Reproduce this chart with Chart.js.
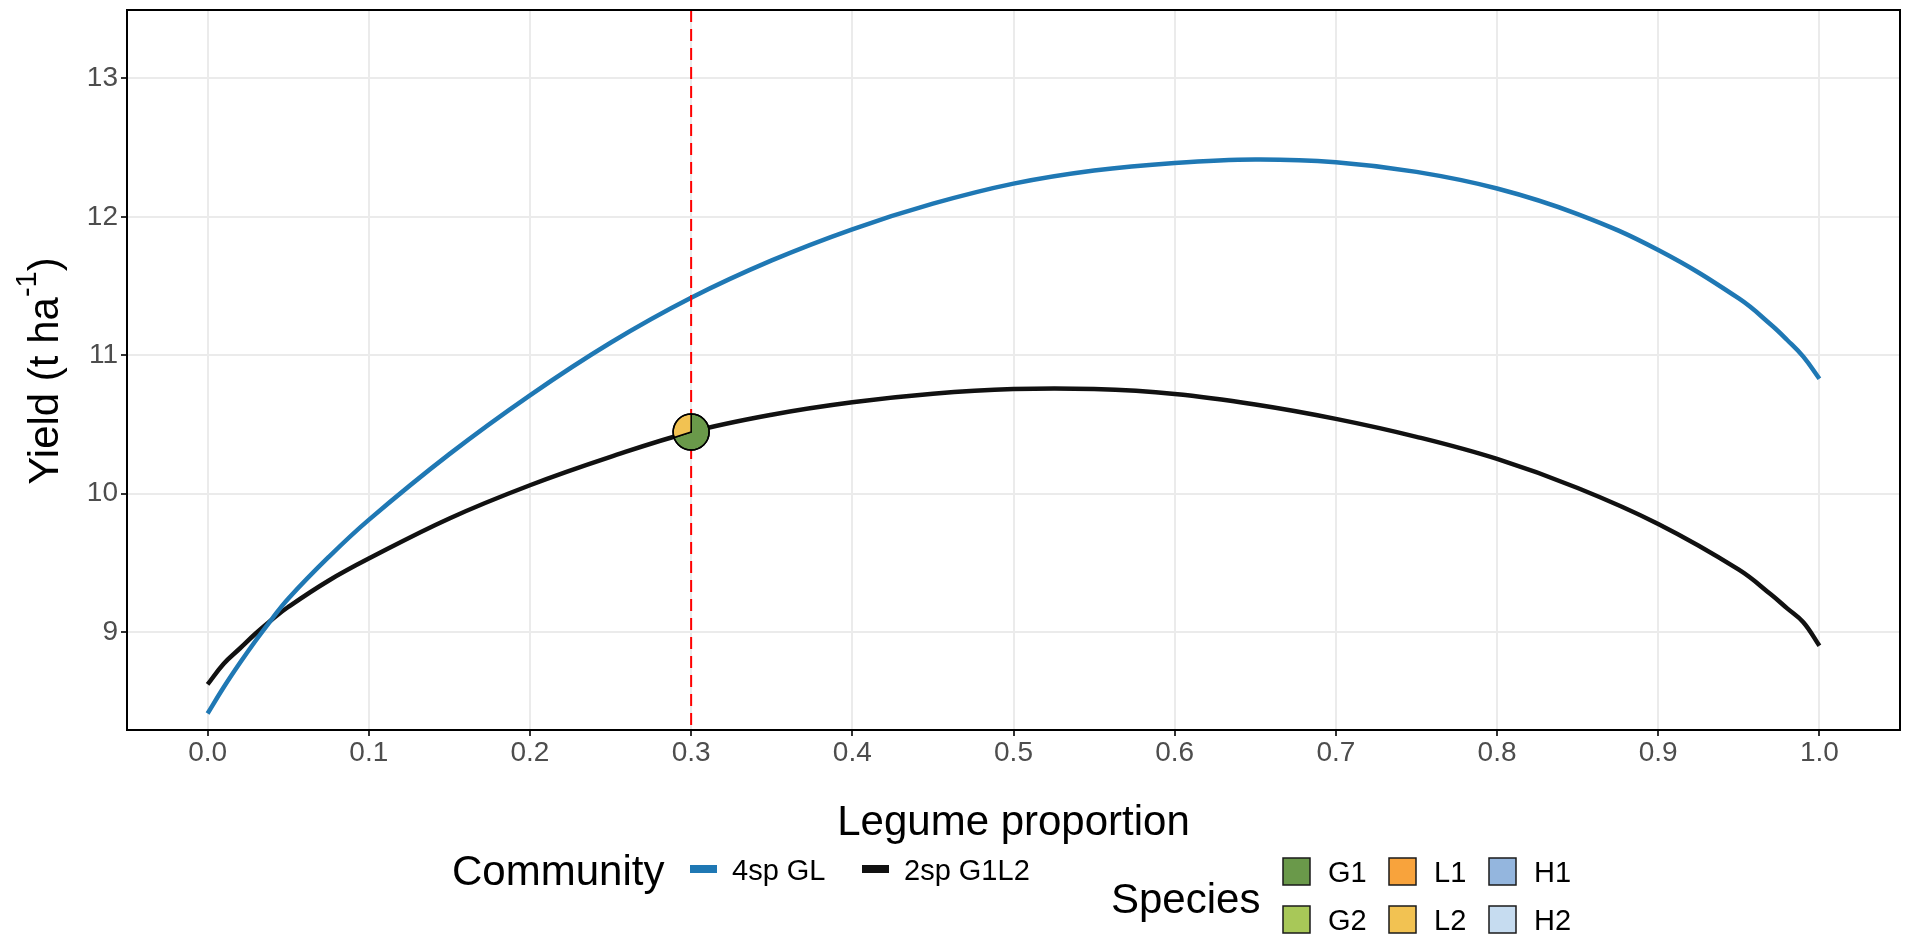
<!DOCTYPE html>
<html>
<head>
<meta charset="utf-8">
<title>Yield vs legume proportion</title>
<script src="https://cdn.jsdelivr.net/npm/chart.js@4.4.1/dist/chart.umd.min.js"></script>
<style>
    html, body { margin: 0; padding: 0; background: #ffffff; }
    #wrap { width: 1905px; height: 941px; }
</style>
</head>
<body>
<div id="wrap"><canvas id="yieldChart" width="1905" height="941"></canvas></div>
<script>
const legumeProportion = [0, 0.01, 0.02, 0.03, 0.04, 0.05, 0.075, 0.1, 0.15, 0.2, 0.25, 0.3, 0.35, 0.4, 0.45, 0.5, 0.55, 0.6, 0.65, 0.7, 0.75, 0.8, 0.85, 0.9, 0.95, 0.97, 0.98, 0.99, 1.0];
const yield4spGL = [8.41, 8.60, 8.775, 8.94, 9.095, 9.24, 9.54, 9.81, 10.285, 10.71, 11.09, 11.415, 11.685, 11.91, 12.095, 12.24, 12.335, 12.39, 12.415, 12.395, 12.325, 12.205, 12.02, 11.76, 11.41, 11.22, 11.11, 10.99, 10.83];
const yield2spG1L2 = [8.62, 8.77, 8.88, 8.99, 9.09, 9.18, 9.37, 9.53, 9.82, 10.06, 10.265, 10.445, 10.57, 10.66, 10.722, 10.755, 10.755, 10.72, 10.644, 10.54, 10.41, 10.25, 10.04, 9.78, 9.45, 9.27, 9.17, 9.07, 8.90];

const xTicks = [0, 0.1, 0.2, 0.3, 0.4, 0.5, 0.6, 0.7, 0.8, 0.9, 1.0];
const yTicks = [9, 10, 11, 12, 13];

const communityNames = ["4sp GL", "2sp G1L2"];
const communityColours = ["#1F78B4", "#111111"];

const speciesNames = ["G1", "G2", "L1", "L2", "H1", "H2"];
const speciesColours = ["#6A994A", "#A8C858", "#F8A33C", "#F2C252", "#94B6DE", "#C6DCF0"];

// the highlighted mixture on the 2sp G1L2 curve, drawn as a pie of species shares
const selectedProportion = 0.3;
const selectedYield = 10.445;
const selectedShares = [0.7, 0, 0, 0.3, 0, 0];

const FONT = "'Liberation Sans', Arial, Helvetica, sans-serif";

const toPoints = (ys) => legumeProportion.map((x, i) => ({x: x, y: ys[i]}));

// keep the panel where the layout padding puts it, whatever the tick labels want
const noLabelPadding = (scale) =>
{
    scale.paddingTop = 0;
    scale.paddingBottom = 0;
    scale.paddingLeft = 0;
    scale.paddingRight = 0;
};

const drawYTitle = (ctx) =>
{
    const main = "Yield (t ha";
    const sup = "-1";
    const close = ")";

    ctx.save();
    ctx.translate(58, 371);
    ctx.rotate(-Math.PI / 2);
    ctx.fillStyle = "#000000";
    ctx.textBaseline = "alphabetic";
    ctx.textAlign = "left";

    ctx.font = "42px " + FONT;
    const w1 = ctx.measureText(main).width;
    const w3 = ctx.measureText(close).width;
    ctx.font = "29px " + FONT;
    const w2 = ctx.measureText(sup).width;

    let x = -(w1 + w2 + w3) / 2;
    ctx.font = "42px " + FONT;
    ctx.fillText(main, x, 0);
    x += w1;
    ctx.font = "29px " + FONT;
    ctx.fillText(sup, x, -22);
    x += w2;
    ctx.font = "42px " + FONT;
    ctx.fillText(close, x, 0);
    ctx.restore();
};

const drawCommunityLegend = (ctx) =>
{
    ctx.save();
    ctx.fillStyle = "#000000";
    ctx.textAlign = "left";
    ctx.textBaseline = "alphabetic";
    ctx.font = "42px " + FONT;
    ctx.fillText("Community", 452, 885);

    const keyX = [690, 862];
    ctx.font = "29px " + FONT;
    communityNames.forEach((name, i) =>
    {
        ctx.fillStyle = communityColours[i];
        ctx.fillRect(keyX[i], 865, 27, 8);
        ctx.fillStyle = "#000000";
        ctx.fillText(name, keyX[i] + 42, 880);
    });
    ctx.restore();
};

const drawSpeciesLegend = (ctx) =>
{
    ctx.save();
    ctx.fillStyle = "#000000";
    ctx.textAlign = "left";
    ctx.textBaseline = "alphabetic";
    ctx.font = "42px " + FONT;
    ctx.fillText("Species", 1111, 913);

    const colX = [1283, 1389, 1489];
    const rowY = [858, 906];
    ctx.font = "29px " + FONT;
    speciesNames.forEach((name, i) =>
    {
        const col = Math.floor(i / 2);
        const row = i % 2;
        ctx.fillStyle = speciesColours[i];
        ctx.fillRect(colX[col], rowY[row], 27, 27);
        ctx.strokeStyle = "#1A1A1A";
        ctx.lineWidth = 1.5;
        ctx.strokeRect(colX[col], rowY[row], 27, 27);
        ctx.fillStyle = "#000000";
        ctx.fillText(name, colX[col] + 45, rowY[row] + 24);
    });
    ctx.restore();
};

const overlayPlugin =
{
    id: "overlay",
    afterDatasetsDraw: (chart) =>
    {
        const {ctx, chartArea, scales} = chart;
        const cx = scales.x.getPixelForValue(selectedProportion);
        const cy = scales.y.getPixelForValue(selectedYield);

        ctx.save();
        ctx.beginPath();
        ctx.rect(chartArea.left, chartArea.top, chartArea.right - chartArea.left, chartArea.bottom - chartArea.top);
        ctx.clip();

        ctx.strokeStyle = "#FF0000";
        ctx.lineWidth = 2;
        ctx.setLineDash([12, 7]);
        ctx.beginPath();
        ctx.moveTo(cx, chartArea.top);
        ctx.lineTo(cx, chartArea.bottom);
        ctx.stroke();
        ctx.setLineDash([]);

        const radius = 18;
        let start = -Math.PI / 2;
        selectedShares.forEach((share, i) =>
        {
            if (share <= 0)
            {
                return;
            }
            const end = start + share * Math.PI * 2;
            ctx.beginPath();
            ctx.moveTo(cx, cy);
            ctx.arc(cx, cy, radius, start, end);
            ctx.closePath();
            ctx.fillStyle = speciesColours[i];
            ctx.fill();
            ctx.strokeStyle = "#000000";
            ctx.lineWidth = 1.5;
            ctx.stroke();
            start = end;
        });
        ctx.beginPath();
        ctx.arc(cx, cy, radius, 0, Math.PI * 2);
        ctx.strokeStyle = "#000000";
        ctx.lineWidth = 1.5;
        ctx.stroke();
        ctx.restore();

        ctx.save();
        ctx.strokeStyle = "#000000";
        ctx.lineWidth = 2;
        ctx.strokeRect(chartArea.left, chartArea.top, chartArea.right - chartArea.left, chartArea.bottom - chartArea.top);
        ctx.restore();
    },
    afterDraw: (chart) =>
    {
        const {ctx, chartArea} = chart;

        ctx.save();
        ctx.fillStyle = "#000000";
        ctx.font = "42px " + FONT;
        ctx.textAlign = "center";
        ctx.textBaseline = "alphabetic";
        ctx.fillText("Legume proportion", (chartArea.left + chartArea.right) / 2, 835);
        ctx.restore();

        drawYTitle(ctx);
        drawCommunityLegend(ctx);
        drawSpeciesLegend(ctx);
    }
};

new Chart(document.getElementById("yieldChart"), {
    type: "line",
    data: {
        datasets: [
            {
                label: communityNames[0],
                data: toPoints(yield4spGL),
                borderColor: communityColours[0],
                borderWidth: 4.5,
                pointRadius: 0,
                tension: 0.4,
                fill: false
            },
            {
                label: communityNames[1],
                data: toPoints(yield2spG1L2),
                borderColor: communityColours[1],
                borderWidth: 4.5,
                pointRadius: 0,
                tension: 0.4,
                fill: false
            }
        ]
    },
    options: {
        responsive: false,
        animation: false,
        layout: {autoPadding: false, padding: {top: 10, right: 5, bottom: 0, left: 0}},
        plugins: {
            legend: {display: false},
            tooltip: {enabled: false}
        },
        scales: {
            x: {
                type: "linear",
                min: -0.05,
                max: 1.05,
                afterBuildTicks: (scale) => { scale.ticks = xTicks.map(v => ({value: v})); },
                afterFit: (scale) =>
                {
                    scale.height = 211;
                    noLabelPadding(scale);
                },
                ticks: {
                    callback: (v) => Number(v).toFixed(1),
                    font: {family: FONT, size: 28},
                    color: "#4D4D4D",
                    padding: 0,
                    maxRotation: 0,
                    autoSkip: false
                },
                grid: {color: "#EBEBEB", lineWidth: 2, tickLength: 6, tickColor: "#333333", tickWidth: 2},
                border: {display: false}
            },
            y: {
                type: "linear",
                min: 8.291,
                max: 13.495,
                afterBuildTicks: (scale) => { scale.ticks = yTicks.map(v => ({value: v})); },
                afterFit: (scale) =>
                {
                    scale.width = 127;
                    noLabelPadding(scale);
                },
                ticks: {
                    callback: (v) => String(v),
                    font: {family: FONT, size: 28},
                    color: "#4D4D4D",
                    padding: 3
                },
                grid: {color: "#EBEBEB", lineWidth: 2, tickLength: 6, tickColor: "#333333", tickWidth: 2},
                border: {display: false}
            }
        }
    },
    plugins: [overlayPlugin]
});
</script>
</body>
</html>
